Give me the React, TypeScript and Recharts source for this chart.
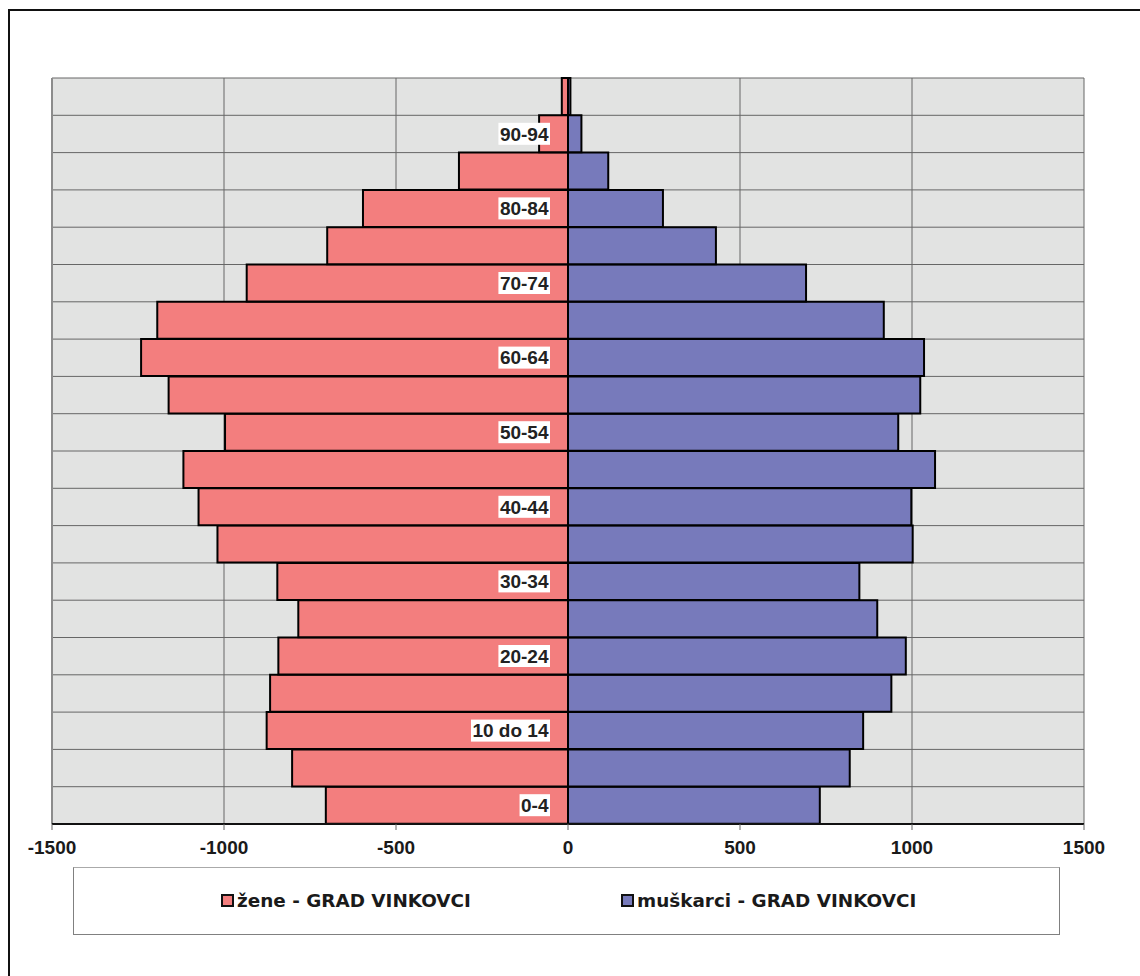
import React from 'react';
import { Bar, BarChart, CartesianGrid, XAxis, YAxis, ReferenceLine, LabelList } from 'recharts';

// age groups, bottom to top
const ages = ['0-4', '5-9', '10 do 14', '15-19', '20-24', '25-29', '30-34', '35-39', '40-44', '45-49',
  '50-54', '55-59', '60-64', '65-69', '70-74', '75-79', '80-84', '85-89', '90-94', '95+'];
// only every second group gets a label
const ageLabels = ['0-4', '', '10 do 14', '', '20-24', '', '30-34', '', '40-44', '',
  '50-54', '', '60-64', '', '70-74', '', '80-84', '', '90-94', ''];
const zene = [-704, -802, -876, -866, -842, -784, -845, -1019, -1074, -1118,
  -997, -1161, -1241, -1194, -934, -700, -596, -317, -84, -18];
const muskarci = [732, 819, 858, 940, 982, 899, 847, 1002, 998, 1067,
  960, 1024, 1035, 918, 692, 430, 276, 117, 39, 7];
const xTicks = [-1500, -1000, -500, 0, 500, 1000, 1500];

const seriesNames = ['žene - GRAD VINKOVCI', 'muškarci - GRAD VINKOVCI'];
const seriesColors = ['#F37E7E', '#777ABB'];

const data = ages.map((age, i) => ({ age, label: ageLabels[i], zene: zene[i], muskarci: muskarci[i] }));

const ARIAL = '"Liberation Sans", Arial, Helvetica, sans-serif';
const LABEL_FONT = 19;
const charW: Record<string, number> = { '-': 0.333, ' ': 0.278, d: 0.611, o: 0.611, '+': 0.584 };
const textWidth = (s: string) =>
  s.split('').reduce((sum, c) => sum + (charW[c] ?? 0.556), 0) * LABEL_FONT;

const AgeLabel = (props: any) => {
  const vb = props.viewBox || {};
  const x = props.x ?? vb.x;
  const y = props.y ?? vb.y;
  const height = props.height ?? vb.height;
  const value = props.value;
  if (!value) return null;
  const right = x - 18;
  const w = textWidth(String(value)) + 3;
  const cy = y + height / 2;
  return (
    <g>
      <rect x={right - w} y={cy - 11} width={w} height={22} fill="#fff" />
      <text x={right - 1.5} y={cy} dy="0.36em" textAnchor="end" fontFamily={ARIAL}
        fontWeight="bold" fontSize={LABEL_FONT} fill="#222">
        {value}
      </text>
    </g>
  );
};

const bandLines = ({ offset }: any) => {
  const top = offset?.top ?? 69;
  const h = offset?.height ?? 746;
  return Array.from({ length: ages.length + 1 }, (_, i) => top + (i * h) / ages.length);
};

const App = () => {
  return (
    <div style={{ position: 'fixed', left: 8, top: 9, width: 1132, height: 967, overflow: 'hidden', background: '#fff' }}>
      <div style={{ position: 'absolute', left: 0, top: 0, width: 1132, height: 967, borderTop: '2px solid #111', borderLeft: '2px solid #111', boxSizing: 'border-box' }} />
      <div style={{ position: 'absolute', left: 0, top: 0 }}>
        <BarChart
          width={1130}
          height={958}
          data={data}
          layout="vertical"
          stackOffset="sign"
          barCategoryGap={0}
          margin={{ top: 69, right: 54, left: 44, bottom: 113 }}
        >
          <CartesianGrid
            fill="#E2E3E2"
            fillOpacity={1}
            stroke="#666"
            strokeWidth={1}
            horizontalCoordinatesGenerator={bandLines}
          />
          <XAxis
            type="number"
            domain={[-1500, 1500]}
            ticks={xTicks}
            height={30}
            axisLine={{ stroke: '#111', strokeWidth: 2 }}
            tickLine={{ stroke: '#666' }}
            tickSize={6}
            tickMargin={11}
            tick={{ fontFamily: ARIAL, fontWeight: 'bold', fontSize: 19, fill: '#1a1a1a' }}
          />
          <XAxis
            xAxisId="top"
            orientation="top"
            type="number"
            domain={[-1500, 1500]}
            height={0}
            tick={false}
            tickLine={false}
            axisLine={{ stroke: '#8c8c8c', strokeWidth: 2 }}
          />
          <YAxis type="category" dataKey="age" reversed hide />
          <ReferenceLine x={-1500} stroke="#8c8c8c" strokeWidth={2} />
          <Bar dataKey="zene" name={seriesNames[0]} stackId="pop" fill={seriesColors[0]}
            stroke="#000" strokeWidth={2} isAnimationActive={false} />
          <Bar dataKey="muskarci" name={seriesNames[1]} stackId="pop" fill={seriesColors[1]}
            stroke="#000" strokeWidth={2} isAnimationActive={false}>
            <LabelList dataKey="label" content={AgeLabel} />
          </Bar>
          <ReferenceLine x={0} stroke="#000" strokeWidth={2} />
        </BarChart>
      </div>
      <div style={{
        position: 'absolute', left: 65, top: 858, width: 987, height: 68, boxSizing: 'border-box',
        border: '1px solid #808080', borderTopColor: '#aaa', background: '#fff',
        fontFamily: '"DejaVu Sans", Verdana, sans-serif', fontWeight: 'bold', fontSize: 18.4, color: '#1a1a1a',
      }}>
        {seriesNames.map((name, i) => (
          <div key={name} style={{ position: 'absolute', left: i === 0 ? 147 : 547, top: 22, display: 'flex', alignItems: 'center', whiteSpace: 'nowrap' }}>
            <span style={{ display: 'inline-block', width: 9, height: 9, border: '2px solid #111', background: seriesColors[i], marginRight: 3 }} />
            <span>{name}</span>
          </div>
        ))}
      </div>
    </div>
  );
};

export default App;
